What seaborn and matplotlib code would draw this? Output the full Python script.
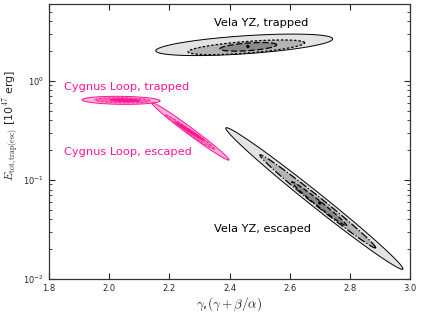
import numpy as np
import pandas as pd
import matplotlib
matplotlib.use("Agg")
import matplotlib.pyplot as plt
import seaborn as sns

# ---- data (x = gamma, y = E_tot in 1e47 erg) ----
# each contour: left tip (x, y), right tip (x, y)
vela_trap_x_left = [2.155, 2.262, 2.368]
vela_trap_y_left = [2.01, 1.96, 2.10]
vela_trap_x_right = [2.743, 2.650, 2.557]
vela_trap_y_right = [2.65, 2.42, 2.31]

vela_esc_x_left = [2.388, 2.501, 2.607]
vela_esc_y_left = [0.335, 0.179, 0.0955]
vela_esc_x_right = [2.976, 2.886, 2.790]
vela_esc_y_right = [0.0126, 0.0206, 0.0343]

cyg_trap_x_left = [1.910, 1.953, 2.003]
cyg_trap_y_left = [0.643, 0.643, 0.643]
cyg_trap_x_right = [2.169, 2.136, 2.103]
cyg_trap_y_right = [0.628, 0.628, 0.630]

cyg_esc_x_left = [2.142, 2.185, 2.218]
cyg_esc_y_left = [0.600, 0.455, 0.385]
cyg_esc_x_right = [2.398, 2.351, 2.318]
cyg_esc_y_right = [0.159, 0.204, 0.249]

best_x = [2.461, 2.700]
best_y = [2.22, 0.0586]

labels = ["Vela YZ, trapped", "Cygnus Loop, trapped", "Cygnus Loop, escaped", "Vela YZ, escaped"]
label_x = [2.35, 1.85, 1.85, 2.35]
label_y = [3.85, 0.87, 0.193, 0.032]

xticks = [1.8, 2.0, 2.2, 2.4, 2.6, 2.8, 3.0]

# ---- style ----
sns.set_style("ticks")
plt.rcParams.update({
    "font.family": ["DejaVu Sans"],
    "mathtext.fontset": "cm",
    "xtick.direction": "in", "ytick.direction": "in",
    "xtick.top": True, "ytick.right": True,
    "xtick.major.size": 4, "ytick.major.size": 4,
    "ytick.minor.size": 2, "xtick.minor.size": 2,
    "axes.edgecolor": "#333333", "axes.linewidth": 0.9,
})

fig = plt.figure(figsize=(4.21, 3.16), dpi=100)
ax = fig.add_axes([49/421, 1-279/316, (410-49)/421, (279-4)/316])
ax.set_yscale("log")
ax.set_xlim(1.8, 3.0)
ax.set_ylim(0.01, 5.96)

SX, SY = 301.0, 99.0  # pixel-like scale for shape widths


def blob(xl, yl, xr, yr, hw):
    p1 = np.array([xl * SX, np.log10(yl) * SY])
    p2 = np.array([xr * SX, np.log10(yr) * SY])
    c = (p1 + p2) / 2
    d = p2 - p1
    a = np.linalg.norm(d) / 2
    u = d / (2 * a)
    n = np.array([-u[1], u[0]])
    t = np.linspace(0, 2 * np.pi, 200)
    pts = c[None, :] + (a * np.cos(t))[:, None] * u[None, :] + (hw * np.sin(t))[:, None] * n[None, :]
    return pts[:, 0] / SX, 10 ** (pts[:, 1] / SY)


def draw(xl, yl, xr, yr, hws, fills, edges, styles, lws):
    for i in range(3):
        x, y = blob(xl[i], yl[i], xr[i], yr[i], hws[i])
        ax.fill(x, y, color=fills[i], lw=0, zorder=2 + i)
        ax.plot(x, y, color=edges[i], ls=styles[i], lw=lws[i], zorder=2.5 + i)

grays = ["#e3e3e3", "#b4b4b4", "#8a8a8a"]
pinks = ["#ffb0d8", "#ff6ab8", "#ff1493"]
draw(vela_trap_x_left, vela_trap_y_left, vela_trap_x_right, vela_trap_y_right,
     [9.0, 5.8, 3.8], grays, ["black"] * 3, ["-", (0, (2, 1.5)), (0, (5, 2))], [0.7, 0.9, 0.9])
draw(vela_esc_x_left, vela_esc_y_left, vela_esc_x_right, vela_esc_y_right,
     [7.0, 4.3, 2.6], grays, ["black"] * 3, ["-", "-.", (0, (4, 2))], [0.7, 0.9, 0.9])
draw(cyg_trap_x_left, cyg_trap_y_left, cyg_trap_x_right, cyg_trap_y_right,
     [4.0, 2.6, 1.5], pinks, ["#ff1493"] * 3, ["-", "--", "-"], [0.7, 0.6, 0.5])
draw(cyg_esc_x_left, cyg_esc_y_left, cyg_esc_x_right, cyg_esc_y_right,
     [3.5, 2.2, 1.3], pinks, ["#ff1493"] * 3, ["-", "--", "-"], [0.7, 0.6, 0.5])

sns.scatterplot(x=best_x, y=best_y, color="black", s=6, edgecolor="none", ax=ax, zorder=10)

colors = ["black", "#ff1493", "#ff1493", "black"]
for t, x, y, c in zip(labels, label_x, label_y, colors):
    ax.text(x, y, t, color=c, fontsize=8.2, ha="left", va="center")

ax.set_xticks(xticks)
ax.set_xticklabels([f"{v:.1f}" for v in xticks])
ax.tick_params(axis="both", which="major", labelsize=6)
ax.set_xlabel(r"$\gamma$,$(\gamma+\beta/\alpha)$", fontsize=9.5, labelpad=2)
ax.set_ylabel(r"$E_{\rm tot,trap(esc)}$ [10$^{47}$ erg]", fontsize=8)
ax.yaxis.set_label_coords(-0.083, 0.56)

fig.savefig("out.png", dpi=100)
